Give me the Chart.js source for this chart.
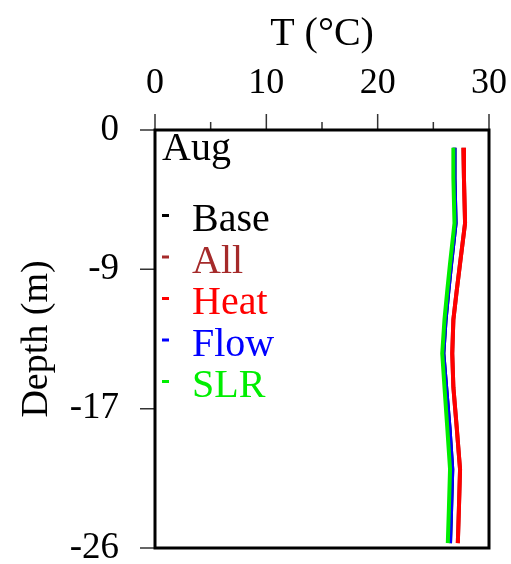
<!DOCTYPE html>
<html>
<head>
<meta charset="utf-8">
<script src="https://cdn.jsdelivr.net/npm/chart.js@4.4.1/dist/chart.umd.min.js"></script>
<style>html,body{margin:0;padding:0;background:#fff;}canvas{display:block;}</style>
</head>
<body>
<canvas id="c" width="511" height="564"></canvas>
<script>
const depths = [-1.1, -3, -5.8, -8.3, -10, -11.8, -13.9, -16, -18.5, -21.1, -23.5, -25.7];
const baseT  = [26.9, 26.9, 27.0, 26.6, 26.35, 26.1, 25.9, 26.15, 26.45, 26.7, 26.6, 26.5];
const allT   = [27.7, 27.75, 27.85, 27.4, 27.1, 26.8, 26.7, 26.8, 27.1, 27.4, 27.3, 27.2];
const heatT  = [27.7, 27.75, 27.85, 27.4, 27.1, 26.8, 26.7, 26.8, 27.1, 27.4, 27.3, 27.2];
const flowT  = [26.9, 26.9, 27.0, 26.6, 26.35, 26.1, 25.9, 26.15, 26.45, 26.7, 26.6, 26.5];
const slrT   = [26.8, 26.8, 26.9, 26.5, 26.25, 26.0, 25.8, 26.0, 26.25, 26.5, 26.4, 26.3];
const seriesNames = ['Base', 'All', 'Heat', 'Flow', 'SLR'];
const seriesColors = ['#000000', '#a52a2a', '#ff0000', '#0000ff', '#00ee00'];
const seriesValues = [baseT, allT, heatT, flowT, slrT];
const xMajorTicks = [0, 10, 20, 30];
const xMinorTicks = [5, 15, 25];
const yTickValues = [0, -26/3, -52/3, -26];
const monthLabel = 'Aug';

const FONT = "'Liberation Serif', 'DejaVu Serif', serif";

const datasets = seriesNames.map((n, i) => ({
  label: n,
  data: depths.map((d, j) => ({x: seriesValues[i][j], y: d})),
  borderColor: seriesColors[i],
  backgroundColor: seriesColors[i],
  borderWidth: 4,
  pointRadius: 0,
  showLine: true,
  tension: 0,
  fill: false,
  order: seriesNames.length - 1 - i
}));

const framePlugin = {
  id: 'frame',
  afterDatasetsDraw(chart) {
    const ctx = chart.ctx, a = chart.chartArea;
    const xs = chart.scales.x, ys = chart.scales.y;
    ctx.save();
    ctx.strokeStyle = '#333';
    ctx.lineWidth = 1.5;
    ctx.beginPath();
    xMajorTicks.forEach(v => { const px = xs.getPixelForValue(v); ctx.moveTo(px, a.top - 16); ctx.lineTo(px, a.top); });
    xMinorTicks.forEach(v => { const px = xs.getPixelForValue(v); ctx.moveTo(px, a.top - 8); ctx.lineTo(px, a.top); });
    yTickValues.forEach(v => { const py = ys.getPixelForValue(v); ctx.moveTo(a.left - 15, py); ctx.lineTo(a.left, py); });
    ctx.stroke();
    ctx.strokeStyle = '#000';
    ctx.lineWidth = 3;
    ctx.strokeRect(a.left, a.top, a.right - a.left, a.bottom - a.top);
    ctx.textBaseline = 'alphabetic';
    ctx.textAlign = 'left';
    ctx.font = '40px ' + FONT;
    ctx.fillStyle = '#000';
    ctx.fillText(monthLabel, a.left + 7, a.top + 30);
    seriesNames.forEach((n, i) => {
      const base = a.top + 101 + i * 41.5;
      ctx.fillStyle = seriesColors[i];
      ctx.fillRect(a.left + 7, base - 17, 7, 3);
      ctx.fillText(n, a.left + 37, base);
    });
    ctx.restore();
  }
};

new Chart(document.getElementById('c'), {
  type: 'scatter',
  data: { datasets },
  options: {
    responsive: false,
    animation: false,
    layout: { padding: { left: 0, top: 0, right: 22, bottom: 16 } },
    plugins: { legend: { display: false }, tooltip: { enabled: false } },
    scales: {
      x: {
        type: 'linear', position: 'top', min: 0, max: 30,
        afterBuildTicks: s => { s.ticks = xMajorTicks.map(v => ({value: v})); },
        ticks: { color: '#000', font: { family: FONT, size: 36 }, padding: 25, maxRotation: 0 },
        grid: { display: false, drawTicks: false },
        border: { display: false },
        title: { display: true, text: 'T (°C)', color: '#000', font: { family: FONT, size: 40 }, padding: { top: 10, bottom: 0 } },
        afterFit: s => { s.height = 130; s.paddingLeft = 0; s.paddingRight = 0; }
      },
      y: {
        type: 'linear', min: -26, max: 0,
        afterBuildTicks: s => { s.ticks = yTickValues.map(v => ({value: v})); },
        ticks: { color: '#000', font: { family: FONT, size: 37 }, padding: 36, callback: v => String(Math.round(v)) },
        grid: { display: false, drawTicks: false },
        border: { display: false },
        title: { display: true, text: 'Depth (m)', color: '#000', font: { family: FONT, size: 38 }, padding: { top: 14, bottom: 0 } },
        afterFit: s => { s.width = 155; s.paddingTop = 0; s.paddingBottom = 0; }
      }
    }
  },
  plugins: [framePlugin]
});
</script>
</body>
</html>
